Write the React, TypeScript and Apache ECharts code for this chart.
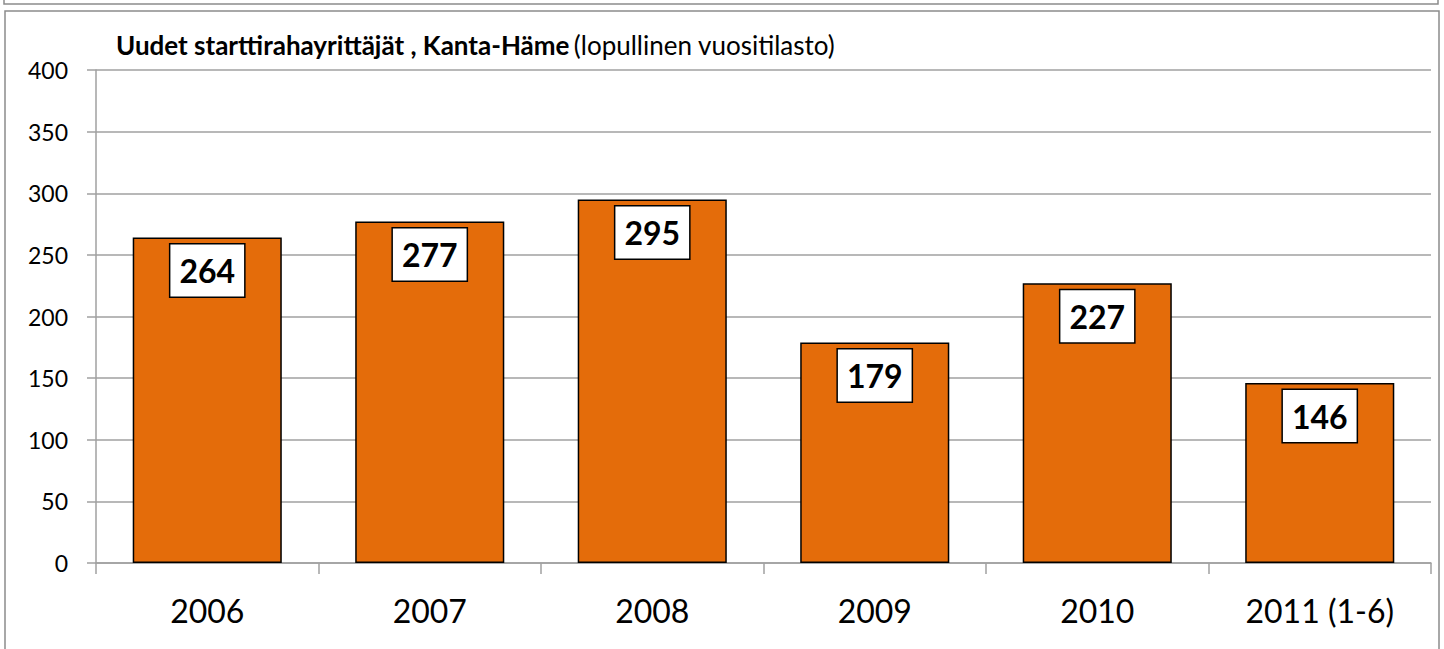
import React, { useEffect, useRef } from "react";
import * as echarts from "echarts";

const categories = ["2006", "2007", "2008", "2009", "2010", "2011 (1-6)"];
const values = [264, 277, 295, 179, 227, 146];
const titleBold = "Uudet starttirahayrittäjät , Kanta-Häme";
const titleNormal = "(lopullinen vuositilasto)";

const FONT = "Lato, 'Open Sans', sans-serif";

export default function App() {
  const ref = useRef<HTMLDivElement>(null);
  useEffect(() => {
    if (!ref.current) return;
    const chart = echarts.init(ref.current, undefined, { renderer: "svg" });
    chart.setOption({
      animation: false,
      backgroundColor: "#ffffff",
      textStyle: { fontFamily: FONT },
      title: {
        text: `{b|${titleBold}} {n|${titleNormal}}`,
        left: 116,
        top: 30,
        padding: 0,
        textStyle: {
          rich: {
            b: { fontFamily: FONT, fontWeight: "bold", fontSize: 26, color: "#000", lineHeight: 30 },
            n: { fontFamily: FONT, fontWeight: "normal", fontSize: 26, color: "#000", lineHeight: 30 },
          },
        },
      },
      graphic: [
        {
          type: "rect",
          shape: { x: 4, y: -20, width: 1434, height: 24 },
          style: { fill: "none", stroke: "#8c8c8c", lineWidth: 1.5 },
          silent: true,
        },
        {
          type: "rect",
          shape: { x: 5, y: 11, width: 1434, height: 660 },
          style: { fill: "none", stroke: "#8c8c8c", lineWidth: 1.5 },
          silent: true,
        },
      ],
      grid: { left: 96, right: 13, top: 70, bottom: 86, containLabel: false },
      xAxis: {
        type: "category",
        data: categories,
        boundaryGap: true,
        axisLine: { show: true, lineStyle: { color: "#a0a0a0", width: 1.5 } },
        axisTick: { show: true, length: 11, lineStyle: { color: "#a0a0a0", width: 1.5 } },
        axisLabel: { color: "#000", fontSize: 32, fontFamily: FONT, margin: 31, lineHeight: 32 },
      },
      yAxis: {
        type: "value",
        min: 0,
        max: 400,
        interval: 50,
        axisLine: { show: true, lineStyle: { color: "#a0a0a0", width: 1.5 } },
        axisTick: { show: true, length: 9, lineStyle: { color: "#a0a0a0", width: 1.5 } },
        splitLine: { show: true, lineStyle: { color: "#a0a0a0", width: 1.5 } },
        axisLabel: { color: "#000", fontSize: 23, fontFamily: FONT, margin: 28 },
      },
      series: [
        {
          type: "bar",
          data: values,
          barWidth: "67%",
          itemStyle: { color: "#E46C0A", borderColor: "#000", borderWidth: 1.5 },
          label: {
            show: true,
            position: "insideTop",
            distance: 7,
            color: "#000",
            fontFamily: FONT,
            fontWeight: "bold",
            fontSize: 32,
            lineHeight: 38,
            backgroundColor: "#fff",
            borderColor: "#000",
            borderWidth: 1.5,
            padding: [7, 9, 7, 9],
          },
        },
      ],
    });
    return () => chart.dispose();
  }, []);
  return (
    <div
      ref={ref}
      style={{ position: "absolute", left: 0, top: 0, width: 1444, height: 649 }}
    />
  );
}
